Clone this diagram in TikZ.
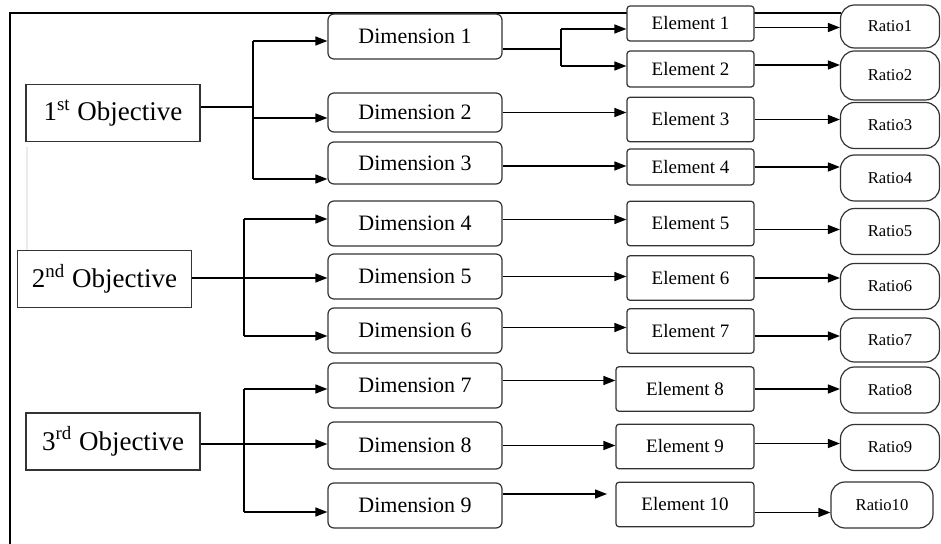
\documentclass[tikz,border=0pt]{standalone}
\usepackage{fontspec}
\setmainfont{Liberation Serif}
\usetikzlibrary{arrows.meta}
\begin{document}
\begin{tikzpicture}[x=0.5pt,y=-0.5pt,line width=0.7pt,
        box/.style={draw=black!80,fill=white,line width=0.6pt,inner sep=0pt},
        objbox/.style={box,minimum width=87pt,minimum height=28.5pt,font=\fontsize{13.5}{16}\selectfont},
        dimbox/.style={box,rounded corners=3pt,minimum width=87pt,minimum height=22.5pt,font=\fontsize{11}{13}\selectfont},
        elbox/.style={box,rounded corners=1.5pt,minimum width=63.5pt,minimum height=22.25pt,font=\fontsize{9.5}{11}\selectfont},
        ratbox/.style={box,rounded corners=7pt,minimum width=49.5pt,minimum height=23pt,font=\fontsize{8.3}{10}\selectfont},
        arr/.style={-{Triangle[length=6pt,width=4.5pt]}}]
        \useasboundingbox (0,0) rectangle (941,544);
        \draw[line width=0.6pt] (10,544) -- (10,13) -- (841,13);
        \draw[black!8,line width=1pt] (27,147) -- (27,250);

        \node[objbox] (O1) at (113,113) {1\textsuperscript{st} Objective};
        \node[objbox] (O2) at (104.5,279) {2\textsuperscript{nd} Objective};
        \node[objbox] (O3) at (113,441.5) {3\textsuperscript{rd} Objective};

        \node[dimbox] (D1) at (415,36.5) {Dimension 1};
        \node[dimbox,minimum height=19.5pt] (D2) at (415,112.5) {Dimension 2};
        \node[dimbox,minimum height=21pt] (D3) at (415,163) {Dimension 3};
        \node[dimbox] (D4) at (415,223.5) {Dimension 4};
        \node[dimbox] (D5) at (415,276.5) {Dimension 5};
        \node[dimbox] (D6) at (415,330.5) {Dimension 6};
        \node[dimbox] (D7) at (415,385.5) {Dimension 7};
        \node[dimbox,minimum height=23.5pt] (D8) at (415,445.5) {Dimension 8};
        \node[dimbox] (D9) at (415,505.5) {Dimension 9};

        \node[elbox,minimum height=17.5pt] (E1) at (690.5,23.5) {Element 1};
        \node[elbox,minimum height=18pt] (E2) at (690.5,69) {Element 2};
        \node[elbox] (E3) at (690.5,119.5) {Element 3};
        \node[elbox,minimum height=18pt] (E4) at (690.5,167) {Element 4};
        \node[elbox] (E5) at (690.5,223.5) {Element 5};
        \node[elbox] (E6) at (690.5,278) {Element 6};
        \node[elbox] (E7) at (690.5,331) {Element 7};
        \node[elbox,minimum width=69pt] (E8) at (685,389) {Element 8};
        \node[elbox,minimum width=69pt] (E9) at (685,446.5) {Element 9};
        \node[elbox,minimum width=69pt] (E10) at (685,504.5) {Element 10};

        \node[ratbox,minimum height=21.5pt] (R1) at (890,26.5) {Ratio1};
        \node[ratbox,minimum height=24.5pt] (R2) at (890,75.5) {Ratio2};
        \node[ratbox] (R3) at (890,125.5) {Ratio3};
        \node[ratbox] (R4) at (890,178) {Ratio4};
        \node[ratbox] (R5) at (890,231.5) {Ratio5};
        \node[ratbox] (R6) at (890,286.5) {Ratio6};
        \node[ratbox,minimum height=22pt] (R7) at (890,340) {Ratio7};
        \node[ratbox] (R8) at (890,390) {Ratio8};
        \node[ratbox] (R9) at (890,447.5) {Ratio9};
        \node[ratbox,minimum width=51pt] (R10) at (882,505) {Ratio10};

        \coordinate (s1) at (253,107);
        \coordinate (c11) at (253,41);
        \coordinate (c12) at (253,118);
        \coordinate (c13) at (253,179);
        \draw (O1.east |- s1) -- (s1);
        \draw (c11) -- (c13);
        \draw[arr] (c11) -- (c11 -| D1.west);
        \draw[arr] (c12) -- (c12 -| D2.west);
        \draw[arr] (c13) -- (c13 -| D3.west);

        \coordinate (s2) at (244,278);
        \coordinate (c21) at (244,219);
        \coordinate (c23) at (244,336);
        \draw[arr] (O2.east |- s2) -- (s2 -| D5.west);
        \draw (c21) -- (c23);
        \draw[arr] (c21) -- (c21 -| D4.west);
        \draw[arr] (c23) -- (c23 -| D6.west);

        \coordinate (s3) at (244,444);
        \coordinate (c31) at (244,389);
        \coordinate (c33) at (244,512);
        \draw[arr] (O3.east |- s3) -- (s3 -| D8.west);
        \draw (c31) -- (c33);
        \draw[arr] (c31) -- (c31 -| D7.west);
        \draw[arr] (c33) -- (c33 -| D9.west);

        \coordinate (d1) at (561,49);
        \coordinate (e11) at (561,29);
        \coordinate (e12) at (561,66);
        \draw (D1.east |- d1) -- (d1);
        \draw (e11) -- (e12);
        \draw[arr] (e11) -- (e11 -| E1.west);
        \draw[arr] (e12) -- (e12 -| E2.west);
        \draw[arr] (D2.east) -- (D2.east -| E3.west);
        \draw[arr] ([yshift=-1.5pt]D3.east) -- ([yshift=-1.5pt]D3.east -| E4.west);
        \draw[arr] ([yshift=2pt]D4.east) -- ([yshift=2pt]D4.east -| E5.west);
        \draw[arr] (D5.east) -- (D5.east -| E6.west);
        \draw[arr] ([yshift=1.5pt]D6.east) -- ([yshift=1.5pt]D6.east -| E7.west);
        \draw[arr] ([yshift=2.5pt]D7.east) -- ([yshift=2.5pt]D7.east -| E8.west);
        \draw[arr] (D8.east) -- (D8.east -| E9.west);
        \coordinate (f10) at (607,494);
        \draw[arr] (D9.east |- f10) -- (f10);

        \draw[arr] ([yshift=-2pt]E1.east) -- ([yshift=-2pt]E1.east -| R1.west);
        \draw[arr] ([yshift=2pt]E2.east) -- ([yshift=2pt]E2.east -| R2.west);
        \draw[arr] (E3.east) -- (E3.east -| R3.west);
        \draw[arr] (E4.east) -- (E4.east -| R4.west);
        \draw[arr] ([yshift=-3pt]E5.east) -- ([yshift=-3pt]E5.east -| R5.west);
        \draw[arr] (E6.east) -- (E6.east -| R6.west);
        \draw[arr] ([yshift=-2.5pt]E7.east) -- ([yshift=-2.5pt]E7.east -| R7.west);
        \draw[arr] (E8.east) -- (E8.east -| R8.west);
        \draw[arr] ([yshift=1.5pt]E9.east) -- ([yshift=1.5pt]E9.east -| R9.west);
        \draw[arr] ([yshift=-4pt]E10.east) -- ([yshift=-4pt]E10.east -| R10.west);
    \end{tikzpicture}
\end{document}
